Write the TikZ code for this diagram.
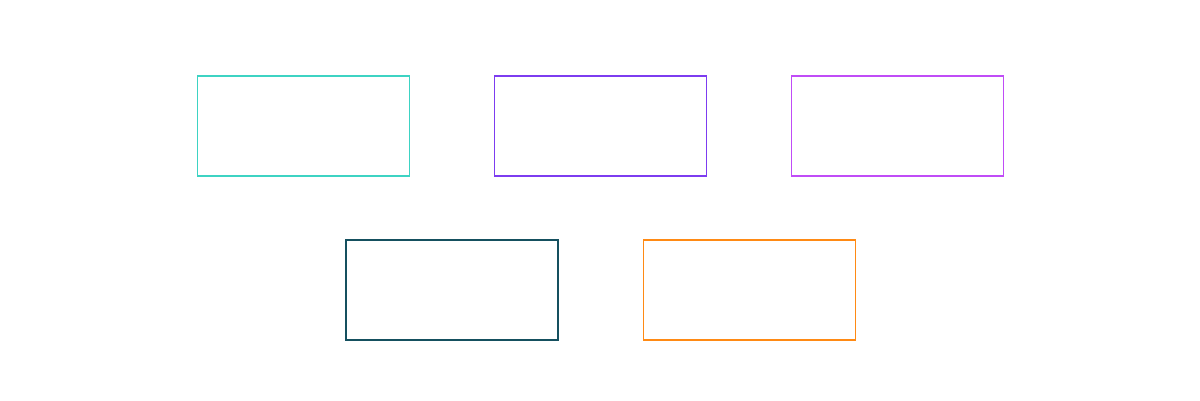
\documentclass[tikz,border=0pt]{standalone}
\begin{document}
\begin{tikzpicture}[x=1pt,y=-1pt,
  boxshape/.style={draw, rectangle, minimum width=212pt, minimum height=100pt, inner sep=0pt, line width=1.9pt}]
\definecolor{cteal}{HTML}{3DD3C3}
\definecolor{cpurple}{HTML}{7D3CF0}
\definecolor{cviolet}{HTML}{C04CF7}
\definecolor{cdark}{HTML}{15505F}
\definecolor{corange}{HTML}{FF8A14}
\useasboundingbox (0,0) rectangle (1200,400);
\node[boxshape, draw=cteal] (a) at (303.5,126) {};
\node[boxshape, draw=cpurple] (b) at (600.5,126) {};
\node[boxshape, draw=cviolet] (c) at (897.5,126) {};
\node[boxshape, draw=cdark, line width=2.6pt] (d) at (452,290) {};
\node[boxshape, draw=corange] (e) at (749.5,290) {};
\end{tikzpicture}
\end{document}
